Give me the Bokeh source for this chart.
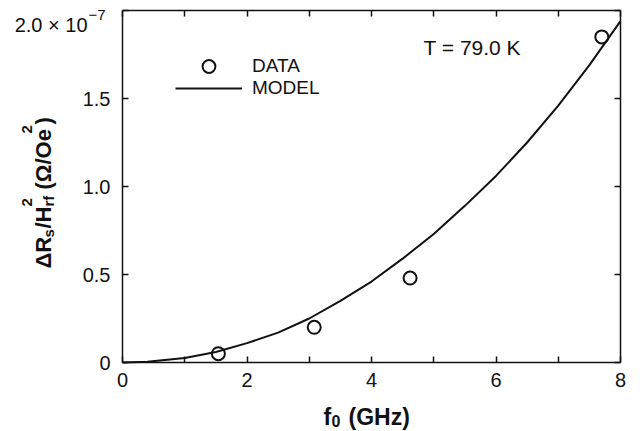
import math
from bokeh.plotting import figure
from bokeh.models import FixedTicker, LinearAxis, Label, Legend, LegendItem, Range1d
from bokeh.embed import file_html
from bokeh.resources import INLINE

# ---- data (y in units of 1e-7 Ohm/Oe^2) ----
freq_data = [1.54, 3.08, 4.62, 7.70]
rs_data = [0.05, 0.20, 0.48, 1.85]

freq_model = [0.0, 0.4, 1.0, 1.5, 2.0, 2.5, 3.0, 3.5, 4.0, 4.5, 5.0, 5.5, 6.0, 6.5, 7.0, 7.5, 8.0]
rs_model = [0.0, 0.004, 0.025, 0.06, 0.11, 0.17, 0.25, 0.35, 0.46, 0.59, 0.73, 0.89, 1.06, 1.25, 1.46, 1.69, 1.94]

x_ticks = [0, 1, 2, 3, 4, 5, 6, 7, 8]
x_tick_labels = ["0", "", "2", "", "4", "", "6", "", "8"]
y_ticks = [0, 0.5, 1.0, 1.5, 2.0]
y_tick_labels = ["0", "0.5", "1.0", "1.5", ""]

X0, X1 = 0, 8
Y0, Y1 = 0, 2

FONT = "Liberation Sans"
INK = "#111111"

FL, FR, FT, FB = 122, 620, 10, 362  # where the plot box sits on the page (px)
W, H = 640, 431

SX = (X1 - X0) / (FR - FL)
SY = (Y1 - Y0) / (FB - FT)

def dx(px):
    return X0 + (px - FL) * SX

def dy(py):
    return Y0 + (FB - py) * SY

p = figure(width=W, height=H, output_backend="svg", toolbar_location=None,
           x_range=Range1d(dx(0), dx(W)), y_range=Range1d(dy(H), dy(0)),
           x_axis_location=None, y_axis_location=None, min_border=0)
p.background_fill_color = "white"
p.border_fill_color = "white"
p.outline_line_color = None
p.xgrid.visible = False
p.ygrid.visible = False

def make_axis(ticks, labels, loc, bounds, show_labels=True):
    ax = LinearAxis(fixed_location=loc, bounds=bounds)
    ax.ticker = FixedTicker(ticks=ticks)
    ax.major_label_overrides = {t: l for t, l in zip(ticks, labels)}
    ax.major_tick_in = 6
    ax.major_tick_out = 0
    ax.minor_tick_in = 0
    ax.minor_tick_out = 0
    ax.major_tick_line_color = INK
    ax.major_tick_line_width = 1.5
    ax.axis_line_color = INK
    ax.axis_line_width = 1.5
    ax.major_label_text_font = FONT
    ax.major_label_text_color = INK
    if show_labels:
        ax.major_label_text_font_size = "20px"
    else:
        ax.major_label_text_font_size = "0px"
        ax.major_label_standoff = 0
    return ax

xb = make_axis(x_ticks, x_tick_labels, Y0, (X0, X1))
xb.major_label_standoff = 10
p.add_layout(xb, "below")
yl = make_axis(y_ticks, y_tick_labels, X0, (Y0, Y1))
yl.major_label_standoff = 12
p.add_layout(yl, "left")
xt = make_axis(x_ticks, [""] * len(x_ticks), Y1, (X0, X1), show_labels=False)
p.add_layout(xt, "above")
yr = make_axis(y_ticks, [""] * len(y_ticks), X1, (Y0, Y1), show_labels=False)
p.add_layout(yr, "right")

# ---- glyphs ----
model_r = p.line(freq_model, rs_model, line_color=INK, line_width=2)
data_r = p.scatter(freq_data, rs_data, marker="circle", size=13,
                   fill_color=None, line_color=INK, line_width=2)

common = dict(orientation="vertical", glyph_width=67, padding=0, margin=0,
              label_standoff=10, border_line_alpha=0, background_fill_alpha=0,
              label_text_font=FONT, label_text_font_size="19px", label_text_color=INK)
leg1 = Legend(items=[LegendItem(label="DATA", renderers=[data_r])],
              location=(175, H - 82), glyph_height=32, label_height=32, **common)
leg2 = Legend(items=[LegendItem(label="MODEL", renderers=[model_r])],
              location=(175, H - 99), glyph_height=22, label_height=22, **common)
p.add_layout(leg1, "center")
p.add_layout(leg2, "center")

def lab(text, px, py, size, bold=False, angle=0.0, align="left", baseline="alphabetic"):
    p.add_layout(Label(x=dx(px), y=dy(py), text=text, angle=angle,
                       text_font=FONT, text_font_size=f"{size}px",
                       text_font_style="bold" if bold else "normal",
                       text_color=INK, text_align=align, text_baseline=baseline))

# annotation
lab("T = 79.0 K", 423, 47, 21, baseline="middle")

# top y tick label with exponent
lab("2.0 × 10", 87, 24, 20, align="right")
lab("−7", 88, 14, 15)

# x axis title: f0 (GHz)
lab("f", 323, 416, 23, bold=True)
lab("0", 331, 420, 16, bold=True)
lab("(GHz)", 348, 416, 23, bold=True)

# y axis title: ΔRs/H2rf (Ω/Oe2), read bottom to top
A = math.pi / 2
BX = 43          # baseline of the main run
lab("ΔR", BX, 268, 22, bold=True, angle=A)
lab("s", BX + 5, 237, 15, bold=True, angle=A)
lab("/H", BX, 228, 22, bold=True, angle=A)
lab("2", BX - 17, 206, 15, bold=True, angle=A)
lab("rf", BX + 5, 206, 15, bold=True, angle=A)
lab("(Ω/Oe", BX, 189, 22, bold=True, angle=A)
lab("2", BX - 17, 133, 15, bold=True, angle=A)
lab(")", BX, 124, 22, bold=True, angle=A)

open("out.html", "w").write(file_html(p, INLINE))
